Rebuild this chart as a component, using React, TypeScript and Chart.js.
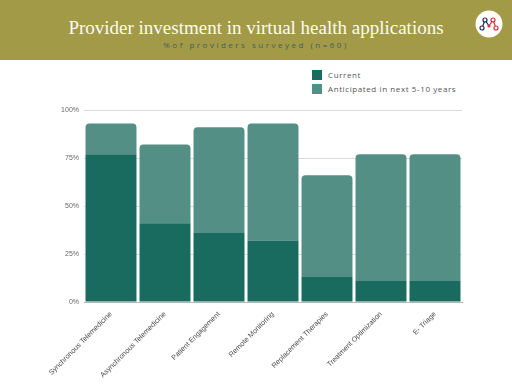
import React, { useEffect, useRef } from "react";
import { Chart, registerables } from "chart.js";

Chart.register(...registerables);

const categories = [
  "Synchronous Telemedicine",
  "Asynchronous Telemedicine",
  "Patient Engagement",
  "Remote Monitoring",
  "Replacement Therapies",
  "Treatment Optimization",
  "E- Triage",
];
const currentValues = [77, 41, 36, 32, 13, 11, 11];
const anticipatedValues = [16, 41, 55, 61, 53, 66, 66];
const seriesNames = ["Current", "Anticipated in next 5-10 years"];
const seriesColors = ["#186b5e", "#548f86"];
const yMax = 100;
const yStep = 25;

const titleText = "Provider investment in virtual health applications";
const subtitleText = "%of providers surveyed (n=60)";

export default function App() {
  const canvasRef = useRef<HTMLCanvasElement | null>(null);

  useEffect(() => {
    document.body.style.margin = "0";
    const canvas = canvasRef.current;
    if (!canvas) return;
    const chart = new Chart(canvas, {
      type: "bar",
      data: {
        labels: categories,
        datasets: [
          {
            label: seriesNames[0],
            data: currentValues,
            backgroundColor: seriesColors[0],
            borderWidth: 0,
            barPercentage: 0.944,
            categoryPercentage: 1,
          },
          {
            label: seriesNames[1],
            data: anticipatedValues,
            backgroundColor: seriesColors[1],
            borderWidth: 0,
            borderRadius: { topLeft: 4, topRight: 4, bottomLeft: 0, bottomRight: 0 },
            borderSkipped: "start",
            barPercentage: 0.944,
            categoryPercentage: 1,
          },
        ],
      },
      options: {
        animation: false,
        responsive: false,
        maintainAspectRatio: false,
        layout: { padding: { left: 0, right: 50, top: 50, bottom: 0 } },
        plugins: {
          legend: { display: false },
          tooltip: { enabled: false },
        },
        scales: {
          x: {
            stacked: true,
            grid: { drawOnChartArea: false, drawTicks: false },
            border: { display: true, color: "#b5b5b5", width: 1 },
            ticks: {
              minRotation: 45,
              maxRotation: 45,
              autoSkip: false,
              padding: 8,
              color: "#4a4a4a",
              font: { family: "Liberation Sans", size: 7.2 },
            },
            afterFit: (scale: any) => {
              scale.height = 82;
            },
          },
          y: {
            stacked: true,
            min: 0,
            max: yMax,
            grid: { color: "#d9d9d9", drawTicks: false, lineWidth: 1 },
            border: { display: false },
            ticks: {
              stepSize: yStep,
              padding: 5,
              color: "#666666",
              font: { family: "Liberation Sans", size: 7 },
              callback: (v: any) => v + "%",
            },
            afterFit: (scale: any) => {
              scale.width = 84;
            },
          },
        },
      },
    });
    return () => chart.destroy();
  }, []);

  return (
    <div
      style={{
        position: "fixed",
        left: 0,
        top: 0,
        width: 512,
        height: 384,
        background: "#ffffff",
        overflow: "hidden",
      }}
    >
      <div
        style={{
          position: "absolute",
          left: 0,
          top: 0,
          width: 512,
          height: 60,
          background: "#a29a47",
        }}
      />
      <div
        style={{
          position: "absolute",
          left: 0,
          top: 18,
          width: 512,
          textAlign: "center",
          fontFamily: "'Liberation Serif', serif",
          fontSize: 19,
          lineHeight: "20px",
          color: "#fbfaf2",
          whiteSpace: "nowrap",
        }}
      >
        {titleText}
      </div>
      <div
        style={{
          position: "absolute",
          left: 0,
          top: 40,
          width: 512,
          textAlign: "center",
          fontFamily: "'Open Sans', sans-serif",
          fontSize: 8,
          lineHeight: "10px",
          letterSpacing: "2.5px",
          color: "#3f6158",
          whiteSpace: "nowrap",
        }}
      >
        {subtitleText}
      </div>
      <svg
        style={{ position: "absolute", left: 474, top: 9 }}
        width={30}
        height={30}
        viewBox="0 0 30 30"
      >
        <circle cx={15} cy={15} r={13.5} fill="#ffffff" />
        <polyline points="8,19 11,11 15,17" fill="none" stroke="#1f2a5c" strokeWidth={1.2} />
        <polyline points="15,17 19,11 22,19" fill="none" stroke="#d8323c" strokeWidth={1.2} />
        <circle cx={8} cy={19} r={2} fill="#fff" stroke="#1f2a5c" strokeWidth={1.2} />
        <circle cx={11} cy={11} r={2} fill="#fff" stroke="#1f2a5c" strokeWidth={1.2} />
        <circle cx={15} cy={17} r={1.6} fill="#d8323c" />
        <circle cx={19} cy={11} r={2} fill="#fff" stroke="#d8323c" strokeWidth={1.2} />
        <circle cx={22} cy={19} r={2} fill="#fff" stroke="#d8323c" strokeWidth={1.2} />
      </svg>
      {seriesNames.map((name, i) => (
        <div
          key={name}
          style={{
            position: "absolute",
            left: 312,
            top: 70 + i * 14,
            height: 10,
            display: "flex",
            alignItems: "center",
            whiteSpace: "nowrap",
          }}
        >
          <span
            style={{
              display: "inline-block",
              width: 10,
              height: 10,
              background: seriesColors[i],
              marginRight: 6,
            }}
          />
          <span
            style={{
              fontFamily: "'Open Sans', sans-serif",
              fontSize: 8,
              letterSpacing: "0.6px",
              color: "#555555",
              lineHeight: "10px",
            }}
          >
            {name}
          </span>
        </div>
      ))}
      <canvas
        ref={canvasRef}
        width={512}
        height={324}
        style={{ position: "absolute", left: 0, top: 60, width: 512, height: 324 }}
      />
    </div>
  );
}
